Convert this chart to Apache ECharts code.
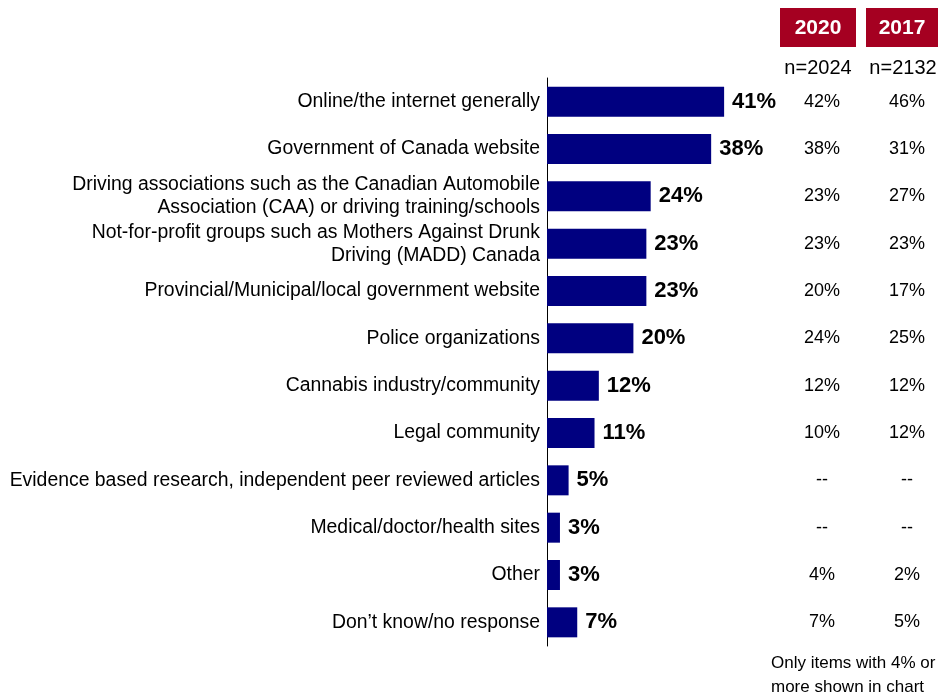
<!DOCTYPE html>
<html>
<head>
<meta charset="utf-8">
<script src="https://cdn.jsdelivr.net/npm/echarts@6/dist/echarts.min.js"></script>
<style>
  html, body { margin: 0; padding: 0; background: #fff; }
  #main { width: 941px; height: 696px; }
</style>
</head>
<body>
<div id="main"></div>
<script>
// categories top to bottom
var categories = [
  'Online/the internet generally',
  'Government of Canada website',
  'Driving associations such as the Canadian Automobile\nAssociation (CAA) or driving training/schools',
  'Not-for-profit groups such as Mothers Against Drunk\nDriving (MADD) Canada',
  'Provincial/Municipal/local government website',
  'Police organizations',
  'Cannabis industry/community',
  'Legal community',
  'Evidence based research, independent peer reviewed articles',
  'Medical/doctor/health sites',
  'Other',
  'Don\u2019t know/no response'
];
var values2020 = [41, 38, 24, 23, 23, 20, 12, 11, 5, 3, 3, 7];
var col2020 = ['42%', '38%', '23%', '23%', '20%', '24%', '12%', '10%', '--', '--', '4%', '7%'];
var col2017 = ['46%', '31%', '27%', '23%', '17%', '25%', '12%', '12%', '--', '--', '2%', '5%'];
var headers = ['2020', '2017'];
var sampleSizes = ['n=2024', 'n=2132'];

var narrow = '"Liberation Sans Narrow", "Arial Narrow", "Liberation Sans", Arial, sans-serif';
var regular = '"Liberation Sans", Arial, sans-serif';

var chart = echarts.init(document.getElementById('main'));

// right-hand comparison columns, one label per category row
function tableSeries(idx, texts) {
  return {
    type: 'scatter',
    xAxisIndex: idx,
    yAxisIndex: idx,
    symbolSize: 1,
    itemStyle: { color: 'rgba(0,0,0,0)' },
    silent: true,
    data: texts.map(function (t, i) { return [0, i]; }),
    label: {
      show: true,
      position: 'inside',
      color: '#000',
      opacity: 1,
      fontFamily: regular,
      fontSize: 18,
      formatter: function (p) { return texts[p.dataIndex]; }
    }
  };
}

var gridBase = { top: 78, height: 568, outerBoundsMode: 'none', containLabel: false };

var option = {
  backgroundColor: '#fff',
  animation: false,
  grid: [
    Object.assign({ left: 547, width: 216 }, gridBase),
    Object.assign({ left: 800, width: 44 }, gridBase),
    Object.assign({ left: 885, width: 44 }, gridBase)
  ],
  xAxis: [
    { gridIndex: 0, type: 'value', min: 0, max: 50, show: false },
    { gridIndex: 1, type: 'value', min: -1, max: 1, show: false },
    { gridIndex: 2, type: 'value', min: -1, max: 1, show: false }
  ],
  yAxis: [
    {
      gridIndex: 0,
      type: 'category',
      inverse: true,
      data: categories,
      axisLine: { show: true, lineStyle: { color: '#000', width: 1 } },
      axisTick: { show: false },
      axisLabel: {
        margin: 7,
        color: '#000',
        fontFamily: narrow,
        fontSize: 19.4,
        lineHeight: 23,
        align: 'right'
      }
    },
    { gridIndex: 1, type: 'category', inverse: true, data: categories, show: false },
    { gridIndex: 2, type: 'category', inverse: true, data: categories, show: false }
  ],
  series: [
    {
      type: 'bar',
      xAxisIndex: 0,
      yAxisIndex: 0,
      data: values2020,
      barWidth: 30,
      itemStyle: { color: '#000080' },
      label: {
        show: true,
        position: 'right',
        distance: 8,
        color: '#000',
        fontFamily: regular,
        fontWeight: 'bold',
        fontSize: 22,
        formatter: '{c}%'
      }
    },
    tableSeries(1, col2020),
    tableSeries(2, col2017)
  ],
  graphic: [
    { type: 'rect', shape: { x: 780, y: 8, width: 76, height: 39 }, style: { fill: '#A50021' } },
    { type: 'rect', shape: { x: 866, y: 8, width: 72, height: 39 }, style: { fill: '#A50021' } },
    { type: 'text', x: 818, y: 28, style: { text: headers[0], fill: '#fff', font: 'bold 21px ' + narrow, textAlign: 'center', textVerticalAlign: 'middle' } },
    { type: 'text', x: 902, y: 28, style: { text: headers[1], fill: '#fff', font: 'bold 21px ' + narrow, textAlign: 'center', textVerticalAlign: 'middle' } },
    { type: 'text', x: 818, y: 68, style: { text: sampleSizes[0], fill: '#000', font: '20px ' + narrow, textAlign: 'center', textVerticalAlign: 'middle' } },
    { type: 'text', x: 903, y: 68, style: { text: sampleSizes[1], fill: '#000', font: '20px ' + narrow, textAlign: 'center', textVerticalAlign: 'middle' } },
    { type: 'text', x: 771, y: 651, style: { text: 'Only items with 4% or\nmore shown in chart', fill: '#000', font: '17px ' + narrow, lineHeight: 24, textAlign: 'left', textVerticalAlign: 'top' } }
  ]
};

chart.setOption(option);
</script>
</body>
</html>
